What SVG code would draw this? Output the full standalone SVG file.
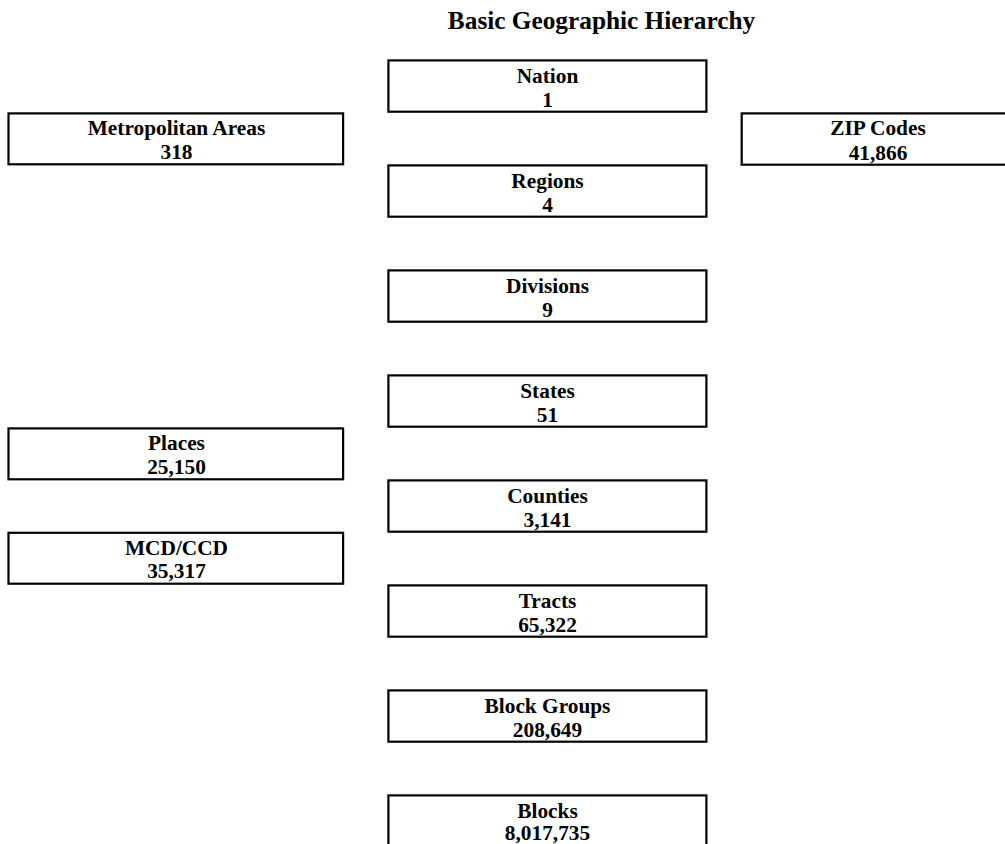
<svg xmlns="http://www.w3.org/2000/svg" width="1005" height="844" viewBox="0 0 1005 844">
<style>
.box{fill:#fff;stroke:#000;stroke-width:2.2}
text{font-family:"Liberation Serif","Times New Roman",serif;font-weight:bold;fill:#000;text-anchor:middle}
.lbl{font-size:21.33px}
.title{font-size:25.3px}
</style>
<rect width="1005" height="844" fill="#fff"/>
<text class="title" x="601.5" y="28.5">Basic Geographic Hierarchy</text>
<g id="connectors"></g>
<g id="nation"><rect class="box" x="388.4" y="60.4" width="318" height="51.3"/><text class="lbl" x="547.5" y="83.3">Nation</text><text class="lbl" x="547.5" y="106.5">1</text></g>
<g id="regions"><rect class="box" x="388.4" y="165.4" width="318" height="51.3"/><text class="lbl" x="547.5" y="188.3">Regions</text><text class="lbl" x="547.5" y="211.5">4</text></g>
<g id="divisions"><rect class="box" x="388.4" y="270.4" width="318" height="51.3"/><text class="lbl" x="547.5" y="293.3">Divisions</text><text class="lbl" x="547.5" y="316.5">9</text></g>
<g id="states"><rect class="box" x="388.4" y="375.4" width="318" height="51.3"/><text class="lbl" x="547.5" y="398.3">States</text><text class="lbl" x="547.5" y="421.5">51</text></g>
<g id="counties"><rect class="box" x="388.4" y="480.4" width="318" height="51.3"/><text class="lbl" x="547.5" y="503.3">Counties</text><text class="lbl" x="547.5" y="526.5">3,141</text></g>
<g id="tracts"><rect class="box" x="388.4" y="585.4" width="318" height="51.3"/><text class="lbl" x="547.5" y="608.3">Tracts</text><text class="lbl" x="547.5" y="631.5">65,322</text></g>
<g id="block-groups"><rect class="box" x="388.4" y="690.4" width="318" height="51.3"/><text class="lbl" x="547.5" y="713.3">Block Groups</text><text class="lbl" x="547.5" y="736.5">208,649</text></g>
<g id="blocks"><rect class="box" x="388.4" y="795.4" width="318" height="51.3"/><text class="lbl" x="547.5" y="817.8">Blocks</text><text class="lbl" x="547.5" y="839.6">8,017,735</text></g>
<g id="metropolitan-areas"><rect class="box" x="8.5" y="113.4" width="334.6" height="50.9"/><text class="lbl" x="176.5" y="135">Metropolitan Areas</text><text class="lbl" x="176.5" y="159">318</text></g>
<g id="zip-codes"><rect class="box" x="741.7" y="113.4" width="273" height="51.3"/><text class="lbl" x="878" y="135">ZIP Codes</text><text class="lbl" x="878" y="159.5">41,866</text></g>
<g id="places"><rect class="box" x="8.5" y="428.4" width="334.6" height="50.9"/><text class="lbl" x="176.5" y="450">Places</text><text class="lbl" x="176.5" y="473.5">25,150</text></g>
<g id="mcd-ccd"><rect class="box" x="8.5" y="532.8" width="334.6" height="50.9"/><text class="lbl" x="176.5" y="554.5">MCD/CCD</text><text class="lbl" x="176.5" y="578">35,317</text></g>
</svg>
